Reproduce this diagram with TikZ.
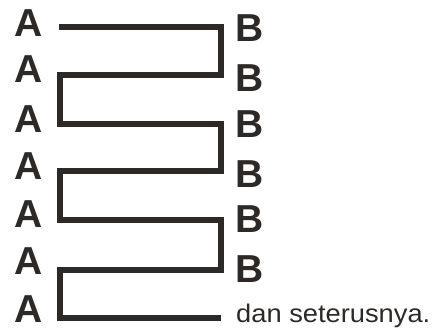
\documentclass[tikz,border=0pt]{standalone}
\usepackage{fontspec}
\setmainfont{Liberation Sans}
\definecolor{ink}{HTML}{2D2926}
\begin{document}
\begin{tikzpicture}[x=1pt,y=-1pt,
  lbl/.style={font=\fontsize{39}{39}\selectfont\bfseries, text=ink, inner sep=0pt, text depth=0pt, anchor=base},
  note/.style={font=\fontsize{25.5}{26}\selectfont, text=ink, inner sep=0pt, text depth=0pt, anchor=base west},
  zig/.style={draw=ink, line width=5.5pt, line join=miter}]
\useasboundingbox (0,0) rectangle (432,329);
% labels A
\node[lbl] (A1) at (28.5,37) {A};
\node[lbl] (A2) at (28.5,83) {A};
\node[lbl] (A3) at (28.5,133) {A};
\node[lbl] (A4) at (28.5,180) {A};
\node[lbl] (A5) at (28.5,228) {A};
\node[lbl] (A6) at (28.5,275) {A};
\node[lbl] (A7) at (28.5,322) {A};
% labels B
\node[lbl] (B1) at (250,42) {B};
\node[lbl] (B2) at (250,92) {B};
\node[lbl] (B3) at (250,138) {B};
\node[lbl] (B4) at (250,188) {B};
\node[lbl] (B5) at (250,233) {B};
\node[lbl] (B6) at (250,283) {B};
\node[note] (T) at (236,323) {\scalebox{1.07}[1]{dan seterusnya.}};
% corner points
\coordinate (s) at (59,27);
\coordinate (r1) at (221,27);
\coordinate (r2) at (221,75);
\coordinate (l2) at (60,75);
\coordinate (l3) at (60,124);
\coordinate (r3) at (221,124);
\coordinate (r4) at (221,171);
\coordinate (l4) at (60,171);
\coordinate (l5) at (60,220);
\coordinate (r5) at (221,220);
\coordinate (r6) at (221,270);
\coordinate (l6) at (60,270);
\coordinate (l7) at (60,318);
\coordinate (e) at (221,318);
\draw[zig] (s) -- (r1) -- (r2) -- (l2) -- (l3) -- (r3) -- (r4) -- (l4) -- (l5) -- (r5) -- (r6) -- (l6) -- (l7) -- (e);
\end{tikzpicture}
\end{document}
